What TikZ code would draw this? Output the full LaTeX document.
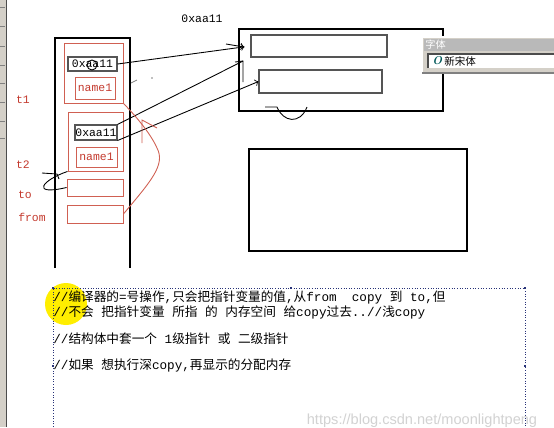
\documentclass[tikz,border=0pt]{standalone}
\usepackage{fontspec}
\setmonofont{Liberation Mono}
\newfontfamily\cjk{Noto Sans CJK SC}
\newfontfamily\wmfont{Liberation Sans}
\usetikzlibrary{positioning}
\definecolor{penred}{RGB}{208,96,82}
\definecolor{inkred}{RGB}{196,58,46}
\definecolor{boxgray}{RGB}{85,85,85}
\definecolor{selblue}{RGB}{40,50,120}
\definecolor{hiyellow}{RGB}{255,238,0}
\definecolor{wingray}{RGB}{212,208,200}
\newcommand\zh[1]{{\cjk #1}}

\begin{document}
\begin{tikzpicture}[
    x=0.02cm, y=-0.02cm,
    every node/.style={inner sep=0pt, font=\ttfamily\fontsize{6.5}{8}\selectfont},
    sz/.style 2 args={minimum width=#1*0.02cm, minimum height=#2*0.02cm},
    redbox/.style={draw=penred, line width=0.5pt},
    ptrbox/.style={draw=boxgray, line width=0.6pt},
    heapbox/.style={draw, line width=1.5pt},
    lbl/.style={text=inkred},
    memo/.style={anchor=west, font=\ttfamily\fontsize{7.2}{9}\selectfont},
    pen/.style={line width=0.5pt},
    redpen/.style={draw=penred, line width=0.5pt}
]
\useasboundingbox (0,0) rectangle (554,427);
\fill[white] (0,0) rectangle (554,427);

% window edge on the left
\fill[wingray] (0,0) rectangle (6,427);
\draw[gray!60!black, line width=0.8pt] (6.5,0) -- (6.5,427);
\foreach \yy in {7,26,46,65,83,102,121,138}
    \draw[gray, line width=0.3pt] (0,\yy) -- (5,\yy);

% stack
\draw[line width=1.5pt] (55,268) -- (55,38) -- (130,38) -- (130,268);

\node[redbox, sz={59}{60}] (t1box) at (93.5,73) {};
\node[ptrbox, sz={49}{14}] (p1) at (92.5,64) {0xaa11};
\node[redbox, sz={40}{22}, lbl] (n1) at (95,88) {name1};
\node[redbox, sz={55}{59}] (t2box) at (95.5,141.5) {};
\node[ptrbox, sz={42}{15}] (p2) at (96,132.5) {0xaa11};
\node[redbox, sz={41}{20}, lbl] (n2) at (96.5,157) {name1};
\node[redbox, sz={56}{17}] (tobox) at (95,187.5) {};
\node[redbox, sz={56}{18}] (frombox) at (95,214) {};

\node[lbl] (t1) at (23,100) {t1};
\node[lbl] (t2) at (23,165) {t2};
\node[lbl] (to) at (25,195) {to};
\node[lbl] (from) at (32,217) {from};

\draw[pen] (92,65) circle (5);
\draw[gray, pen] (131,83) -- (137,80);
\fill[gray] (152,78) circle (0.8);

% heap
\node (addr) at (202,19) {0xaa11};
\node[heapbox, sz={204}{82}] (heap1) at (341,70) {};
\node[ptrbox, sz={136}{22}] (f1) at (319,46) {};
\node[ptrbox, sz={123}{23}] (f2) at (320.5,81.5) {};
\node[heapbox, sz={218}{102}] (heap2) at (358,200) {};

% pointers
\coordinate (corner) at (243,61);
\draw[pen, ->] (p1.east) -- (f1.west) [shorten >=0.12cm];
\draw[pen, ->] (226,44) -- (244,47);
\draw[pen] (p2.north east) -- (corner);
\draw[pen] (235,62) -- (corner) -- (243,82);
\draw[pen, ->] (p2.south east) -- (f2.west);
\draw[pen] (265,107) -- (277,107) .. controls (283,122) and (300,125) .. (307,107);

% t2 = t1 copy
\draw[pen] (42,173) -- (57,174) -- (59,179);
\draw[pen] (t2box.south west) .. controls (42,180) and (30,196) .. (tobox.west);
\coordinate (rtip) at (142,120);
\draw[redpen] (frombox.east) .. controls (150,182) and (166,165) .. (157,148)
    .. controls (150,132) and (132,112) .. (t1box.south east);
\draw[redpen] (142,143) -- (rtip) -- (157,128);

% font box
\fill[wingray] (422,37) rectangle (554,73);
\draw[white, line width=0.6pt] (422,73) -- (422,37) -- (554,37);
\draw[gray, line width=0.6pt] (422,73) -- (554,73);
\fill[gray!55] (424,39) rectangle (554,51);
\node[anchor=west, text=white, font=\cjk\fontsize{5.8}{7}\selectfont] (ftitle) at (425,45) {字体};
\fill[white] (428,54) rectangle (554,68);
\draw[gray!60!black, line width=0.6pt] (428,68) -- (428,54) -- (554,54);
\node[anchor=west, text=teal!70!black, font=\rmfamily\bfseries\itshape\fontsize{6.5}{8}\selectfont] (fo) at (432,61) {O};
\node[anchor=west, font=\cjk\fontsize{6}{7}\selectfont] (fname) at (444,61) {新宋体};

% notes
\fill[hiyellow] (66,304) circle (21);
\draw[selblue, densely dotted, line width=0.5pt] (53,427) -- (53,288) -- (525,288) -- (525,427);
\foreach \hx/\hy in {53/288,291/288,525/288,525/366,53/366}
    \fill[selblue] (\hx-1.2,\hy-1.2) rectangle (\hx+1.2,\hy+1.2);
\node[memo] (m1) at (53,297) {//\zh{编译器的}=\zh{号操作},\zh{只会把指针变量的值},\zh{从}from\ \ copy \zh{到} to,\zh{但}};
\node[memo] (m2) at (53,312) {//\zh{不会} \zh{把指针变量} \zh{所指} \zh{的} \zh{内存空间} \zh{给}copy\zh{过去}..//\zh{浅}copy};
\node[memo] (m3) at (53,339) {//\zh{结构体中套一个} 1\zh{级指针} \zh{或} \zh{二级指针}};
\node[memo] (m4) at (53,365) {//\zh{如果} \zh{想执行深}copy,\zh{再显示的分配内存}};
\node[text=gray!35, font=\wmfont\fontsize{8.3}{10}\selectfont] (wm) at (422,421) {https://blog.csdn.net/moonlightpeng};
\end{tikzpicture}
\end{document}
